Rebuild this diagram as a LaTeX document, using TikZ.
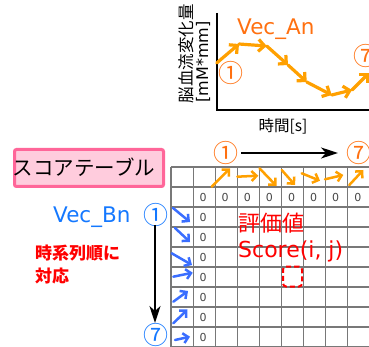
\documentclass[tikz,border=0pt]{standalone}
\usepackage{fontspec}
\setmainfont{DejaVu Sans}
\newfontfamily\jp{Noto Sans CJK JP}
\usetikzlibrary{arrows.meta}
\definecolor{orA}{RGB}{255,160,0}
\definecolor{orT}{RGB}{255,112,16}
\definecolor{blA}{RGB}{58,110,255}
\definecolor{blT}{RGB}{20,120,255}
\definecolor{gridc}{RGB}{120,120,120}
\definecolor{zc}{RGB}{70,70,70}
\definecolor{pinkF}{RGB}{255,204,221}
\definecolor{pinkD}{RGB}{255,102,153}
\definecolor{redT}{RGB}{255,0,0}
\begin{document}
\begin{tikzpicture}[x=1pt,y=-1pt,
  chartarr/.style={draw=orA,line width=3.2pt,line cap=round,-{Straight Barb[length=6pt,width=12pt]}},
  cellarrO/.style={draw=orA,line width=2.5pt,line cap=round,-{Straight Barb[length=5pt,width=10pt]}},
  cellarrB/.style={draw=blA,line width=2.5pt,line cap=round,-{Straight Barb[length=5pt,width=10pt]}},
  blackarr/.style={draw=black,line width=2.2pt,-{Stealth[length=17pt,width=11pt,inset=5pt]}},
  gridl/.style={draw=gridc,line width=1.1pt},
  axisl/.style={draw=black,line width=1.4pt},
  zero/.style={font=\fontsize{11}{11}\selectfont,text=zc,inner sep=0pt},
  circnum/.style={font=\jp\fontsize{25}{25}\selectfont,inner sep=0pt},
  redtxt/.style={text=redT,inner sep=0pt}]
\useasboundingbox (0,0) rectangle (369,347);

% ---------- chart ----------
\coordinate (ytop) at (217,13);
\coordinate (orig) at (217,110);
\coordinate (xend) at (372,110);
\draw[axisl] (ytop) -- (orig) -- (xend);
\node[font=\jp\fontsize{16.5}{17}\selectfont,rotate=90,inner sep=0pt] (ylab1) at (186,54) {脳血流変化量};
\node[font=\fontsize{16}{16}\selectfont,rotate=90,inner sep=0pt] (ylab2) at (203,62) {[mM*mm]};
\node[font=\jp\fontsize{15.5}{16}\selectfont,inner sep=0pt] (xlab) at (283,126) {時間[s]};
\node[font=\fontsize{21.5}{22}\selectfont,text=orT,inner sep=0pt,anchor=base west] (vecA) at (237,35) {Vec\_An};
\node[circnum,text=orT] (cA1) at (231,73) {①};
\node[circnum,text=orT] (cA7) at (366,56) {⑦};
\coordinate (p0) at (216.7,63);
\coordinate (p1) at (239,44);
\coordinate (p2) at (266.7,46);
\coordinate (p3) at (288,65);
\coordinate (p4) at (306.7,82);
\coordinate (p5) at (331.7,95);
\coordinate (p6) at (352,90);
\coordinate (p7) at (369,73);
\foreach \a/\b in {p0/p1,p1/p2,p2/p3,p3/p4,p4/p5,p5/p6,p6/p7}
  \draw[chartarr] (\a) -- (\b);

% ---------- title box ----------
\node[draw=pinkD,fill=pinkF,line width=3pt,rounded corners=2pt,minimum width=149pt,minimum height=37pt,inner sep=0pt] (titlebox) at (89,168) {};
\node[font=\jp\fontsize{20.5}{21}\selectfont,inner sep=0pt] (title) at (84,167.5) {スコアテーブル};

% ---------- grid ----------
\foreach \i in {0,...,9}
  \draw[gridl] (171+22.1*\i,167) -- (171+22.1*\i,348);
\foreach \j in {0,...,9}
  \draw[gridl] (171,167+20*\j) -- (371,167+20*\j);
\foreach \i in {1,...,8}
  \node[zero] (zr\i) at (171+22.1*\i+10,197) {0};
\foreach \j in {1,...,7}
  \node[zero] (zc\j) at (203.2,197+20*\j) {0};

% ---------- header arrows ----------
\node[circnum,text=orT] (tA1) at (226,153.5) {①};
\node[circnum,text=orT] (tA7) at (358.5,153.5) {⑦};
\coordinate (hs) at (241,153);
\coordinate (he) at (338,153);
\draw[blackarr] (hs) -- (he);
\foreach \n/\sx/\sy/\ex/\ey in {1/211.7/186.7/230/168.3, 2/237.3/176.7/258.3/175.7, 3/259.5/168.3/276.5/186, 4/281.7/170/295/185, 5/301.7/173.3/320/180.7, 6/325/179.3/343.3/175, 7/349.3/185/363.3/170}
{
  \coordinate (ha\n s) at (\sx,\sy);
  \coordinate (ha\n e) at (\ex,\ey);
  \draw[cellarrO] (ha\n s) -- (ha\n e);
}

% ---------- left side ----------
\node[font=\fontsize{21.5}{22}\selectfont,text=blT,inner sep=0pt,anchor=base west] (vecB) at (53,223) {Vec\_Bn};
\node[circnum,text=blT] (tB1) at (155.8,215) {①};
\node[circnum,text=blT] (tB7) at (155.8,335) {⑦};
\coordinate (vs) at (155,225);
\coordinate (ve) at (155,323);
\draw[blackarr] (vs) -- (ve);
\foreach \n/\sx/\sy/\ex/\ey in {1/173/208/190/222, 2/175/228/190/242, 3/171.7/253.3/192/265, 4/173.3/276.7/192.7/272.7, 5/173.3/301.7/188/291, 6/173.3/323.3/187.5/309.5, 7/175/340/190/336.7}
{
  \coordinate (hb\n s) at (\sx,\sy);
  \coordinate (hb\n e) at (\ex,\ey);
  \draw[cellarrB] (hb\n s) -- (hb\n e);
}
\node[redtxt,font=\jp\bfseries\fontsize{17}{23}\selectfont,align=left] (order) at (77.5,265) {時系列順に\\対応};

% ---------- score ----------
\node[redtxt,font=\jp\fontsize{22}{22}\selectfont] (hyoka) at (271.5,223) {評価値};
\node[redtxt,font=\fontsize{22}{22}\selectfont,anchor=base west] (score) at (238,258) {Score(i, j)};
\node[draw=redT,line width=2pt,dashed,dash pattern=on 5pt off 3pt,rounded corners=3pt,minimum width=19pt,minimum height=20pt,inner sep=0pt] (cell) at (292.5,276.5) {};
\end{tikzpicture}
\end{document}
